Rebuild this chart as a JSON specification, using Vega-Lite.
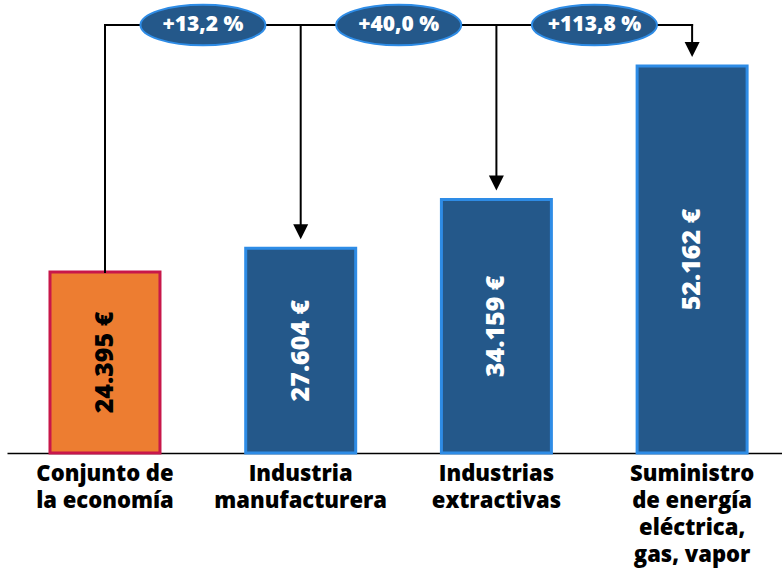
{
  "$schema": "https://vega.github.io/schema/vega-lite/v6.json",
  "width": 775,
  "height": 453,
  "autosize": "none",
  "padding": {"left": 7, "top": 0, "right": 0, "bottom": 125},
  "background": "white",
  "config": {
    "view": {"stroke": null},
    "font": "Open Sans",
    "locale": {"number": {"decimal": ",", "thousands": ".", "grouping": [3], "currency": ["", "\u00a0€"]}}
  },
  "datasets": {
    "bars": [
      {"sector": "Conjunto de\nla economía", "salario": 24395, "tipo": "total"},
      {"sector": "Industria\nmanufacturera", "salario": 27604, "tipo": "rama"},
      {"sector": "Industrias\nextractivas", "salario": 34159, "tipo": "rama"},
      {"sector": "Suministro\nde energía\neléctrica,\ngas, vapor", "salario": 52162, "tipo": "rama"}
    ],
    "links": [
      {"desde": "Conjunto de\nla economía", "hasta": "Industria\nmanufacturera", "hastaSalario": 27604, "variacion": "+13,2 %"},
      {"desde": "Industria\nmanufacturera", "hasta": "Industrias\nextractivas", "hastaSalario": 34159, "variacion": "+40,0 %"},
      {"desde": "Industrias\nextractivas", "hasta": "Suministro\nde energía\neléctrica,\ngas, vapor", "hastaSalario": 52162, "variacion": "+113,8 %"}
    ]
  },
  "resolve": {"scale": {"y": "independent"}},
  "layer": [
    {
      "data": {"name": "bars"},
      "mark": {"type": "bar", "strokeWidth": 3},
      "encoding": {
        "x": {
          "field": "sector", "type": "nominal",
          "scale": {
            "domain": ["Conjunto de\nla economía", "Industria\nmanufacturera", "Industrias\nextractivas", "Suministro\nde energía\neléctrica,\ngas, vapor"],
            "paddingInner": 0.438, "paddingOuter": 0.199, "align": 0.552
          },
          "axis": {
            "title": null, "domain": true, "domainColor": "black", "domainWidth": 1.5,
            "ticks": false, "grid": false, "labelAngle": 0, "labelFont": "Open Sans",
            "labelFontWeight": 800, "labelFontSize": 22, "labelColor": "black",
            "labelLineHeight": 27, "labelPadding": 10, "labelBaseline": "top",
            "labelExpr": "split(datum.value, '\\n')", "labelLimit": 400,
            "labelOverlap": false, "labelBound": false
          }
        },
        "y": {"field": "salario", "type": "quantitative", "scale": {"domain": [0, 61057], "nice": false}, "axis": null},
        "color": {"field": "tipo", "type": "nominal", "scale": {"domain": ["total", "rama"], "range": ["#ED7D31", "#24588A"]}, "legend": null},
        "stroke": {"field": "tipo", "type": "nominal", "scale": {"domain": ["total", "rama"], "range": ["#C8174A", "#2E8CE6"]}, "legend": null}
      }
    },
    {
      "data": {"name": "bars"},
      "mark": {"type": "text", "angle": 270, "fontSize": 25, "fontWeight": 800, "font": "Open Sans", "align": "center", "baseline": "middle"},
      "encoding": {
        "x": {"field": "sector", "type": "nominal", "axis": {"title": null}},
        "y": {"field": "salario", "type": "quantitative", "scale": {"domain": [0, 122114], "nice": false}, "axis": null},
        "text": {"field": "salario", "type": "quantitative", "format": "$,.0f"},
        "color": {"condition": {"test": "datum.tipo == 'total'", "value": "black"}, "value": "white"}
      }
    },
    {
      "data": {"name": "bars"},
      "transform": [{"filter": "datum.tipo == 'total'"}],
      "mark": {"type": "rule", "color": "black", "strokeWidth": 2, "strokeCap": "square"},
      "encoding": {
        "x": {"field": "sector", "type": "nominal", "axis": {"title": null}},
        "y": {"field": "salario", "type": "quantitative", "scale": {"domain": [0, 61057], "nice": false}, "axis": null},
        "y2": {"datum": 57690}
      }
    },
    {
      "data": {"name": "links"},
      "mark": {"type": "rule", "color": "black", "strokeWidth": 2, "strokeCap": "square"},
      "encoding": {
        "x": {"field": "desde", "type": "nominal", "axis": {"title": null}},
        "x2": {"field": "hasta"},
        "y": {"datum": 57690, "type": "quantitative", "scale": {"domain": [0, 61057], "nice": false}, "axis": null}
      }
    },
    {
      "data": {"name": "links"},
      "mark": {"type": "rule", "color": "black", "strokeWidth": 2, "strokeCap": "square", "yOffset": -18},
      "encoding": {
        "x": {"field": "hasta", "type": "nominal", "axis": {"title": null}},
        "y": {"field": "hastaSalario", "type": "quantitative", "scale": {"domain": [0, 61057], "nice": false}, "axis": null},
        "y2": {"datum": 57690}
      }
    },
    {
      "data": {"name": "links"},
      "mark": {"type": "point", "shape": "M-1,-1L1,-1L0,1Z", "size": 225, "filled": true, "color": "black", "opacity": 1, "yOffset": -16.5},
      "encoding": {
        "x": {"field": "hasta", "type": "nominal", "axis": {"title": null}},
        "y": {"field": "hastaSalario", "type": "quantitative", "scale": {"domain": [0, 61057], "nice": false}, "axis": null}
      }
    },
    {
      "data": {"name": "links"},
      "mark": {"type": "point", "shape": "M-1,0A1,0.325,0,1,0,1,0A1,0.325,0,1,0,-1,0Z", "size": 15625, "filled": true, "fill": "#24588A", "stroke": "#2E8CE6", "strokeWidth": 2, "opacity": 1, "xOffset": 98},
      "encoding": {
        "x": {"field": "desde", "type": "nominal", "axis": {"title": null}},
        "y": {"datum": 57690, "type": "quantitative", "scale": {"domain": [0, 61057], "nice": false}, "axis": null}
      }
    },
    {
      "data": {"name": "links"},
      "mark": {"type": "text", "color": "white", "fontSize": 21, "fontWeight": 800, "font": "Open Sans", "align": "center", "baseline": "middle", "xOffset": 98},
      "encoding": {
        "x": {"field": "desde", "type": "nominal", "axis": {"title": null}},
        "y": {"datum": 57690, "type": "quantitative", "scale": {"domain": [0, 61057], "nice": false}, "axis": null},
        "text": {"field": "variacion", "type": "nominal"}
      }
    }
  ]
}
